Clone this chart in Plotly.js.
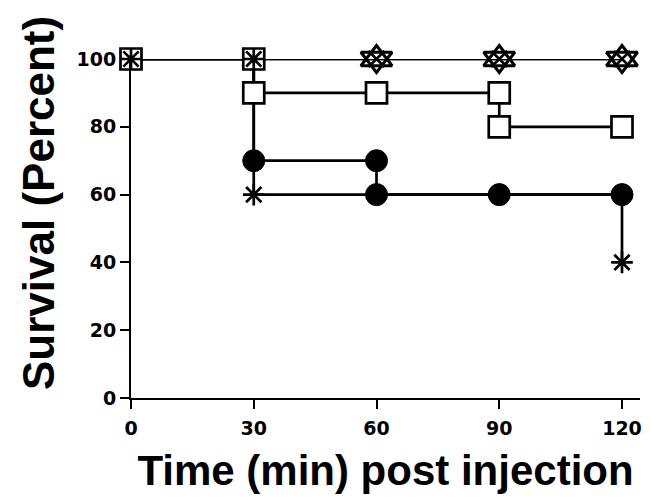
<!DOCTYPE html>
<html>
<head>
<meta charset="utf-8">
<script src="https://cdn.plot.ly/plotly-3.0.1.min.js"></script>
<style>html,body{margin:0;padding:0;background:#fff;}#chart{width:651px;height:497px;}</style>
</head>
<body>
<div id="chart"></div>
<script>
// Kaplan-Meier step data
const times = [0, 30, 60, 90, 120];
const survCircle = [100, 70, 60, 60, 60];
const survStar = [100, 60, 60, 60, 40];
const survSquare = [100, 90, 90, 80, 80];
const survTriUp = [100, 100, 100, 100, 100];
const survTriDown = [100, 100, 100, 100, 100];

// marker points
const circleMarkX = [30, 60, 60, 90, 120];
const circleMarkY = [70, 70, 60, 60, 60];
const starMarkX = [0, 30, 30, 120];
const starMarkY = [100, 100, 60, 40];
const squareMarkX = [0, 30, 30, 60, 90, 90, 120];
const squareMarkY = [100, 100, 90, 90, 90, 80, 80];
const triMarkX = [60, 90, 120];
const triUpMarkY = [100, 100, 100];
const triDownMarkY = [100, 100, 100];

const xTicks = [0, 30, 60, 90, 120];
const yTicks = [0, 20, 40, 60, 80, 100];

const lineStyle = {color: '#000', width: 2.7, shape: 'hv'};
function stepTrace(y) {
  return {x: times, y: y, mode: 'lines', line: lineStyle, cliponaxis: false, hoverinfo: 'skip', showlegend: false};
}
function markTrace(x, y, marker) {
  return {x: x, y: y, mode: 'markers', marker: marker, cliponaxis: false, showlegend: false};
}

const data = [
  stepTrace(survTriUp),
  stepTrace(survTriDown),
  stepTrace(survSquare),
  stepTrace(survCircle),
  stepTrace(survStar),
  markTrace(triMarkX, triUpMarkY, {symbol: 'triangle-up-open', size: 27, color: '#000', line: {color: '#000', width: 3}}),
  markTrace(triMarkX, triDownMarkY, {symbol: 'triangle-down-open', size: 27, color: '#000', line: {color: '#000', width: 3}}),
  markTrace(triMarkX, triUpMarkY, {symbol: 'x-thin-open', size: 16, color: '#000', line: {color: '#000', width: 2.5}}),
  markTrace(squareMarkX, squareMarkY, {symbol: 'square', size: 21, color: '#fff', line: {color: '#000', width: 2.7}}),
  markTrace(circleMarkX, circleMarkY, {symbol: 'circle', size: 22, color: '#000', line: {color: '#000', width: 1}}),
  markTrace(starMarkX, starMarkY, {symbol: 'asterisk-open', size: 18, color: '#000', line: {color: '#000', width: 2.7}})
];

const layout = {
  width: 651, height: 497,
  margin: {l: 131, r: 11, t: 59, b: 99},
  paper_bgcolor: '#fff', plot_bgcolor: '#fff',
  font: {family: 'Liberation Sans, Arial, sans-serif', color: '#000'},
  xaxis: {
    range: [0, 124.4], showgrid: false, zeroline: false,
    showline: true, linecolor: '#000', linewidth: 2,
    ticks: 'outside', ticklen: 9, tickwidth: 2, tickcolor: '#000',
    tickmode: 'array', tickvals: xTicks, ticktext: xTicks.map(String),
    ticklabelstandoff: 3,
    tickfont: {family: 'DejaVu Sans', size: 19, weight: 'bold', color: '#000'},
    title: {text: 'Time (min) post injection', standoff: 18,
            font: {family: 'Liberation Sans, Arial, sans-serif', size: 42, weight: 'bold', color: '#000'}}
  },
  yaxis: {
    range: [0, 100], showgrid: false, zeroline: false,
    showline: true, linecolor: '#000', linewidth: 2,
    ticks: 'outside', ticklen: 9, tickwidth: 2, tickcolor: '#000',
    tickmode: 'array', tickvals: yTicks, ticktext: yTicks.map(String),
    tickfont: {family: 'DejaVu Sans', size: 19, weight: 'bold', color: '#000'}
  },
  annotations: [{
    text: 'Survival (Percent)', textangle: -90, showarrow: false,
    xref: 'paper', yref: 'paper',
    x: (38 - 131) / 509, y: (398 - 203) / 339,
    xanchor: 'center', yanchor: 'middle',
    font: {family: 'Liberation Sans, Arial, sans-serif', size: 44, weight: 'bold', color: '#000'}
  }]
};

Plotly.newPlot('chart', data, layout, {displayModeBar: false, staticPlot: true});
</script>
</body>
</html>
